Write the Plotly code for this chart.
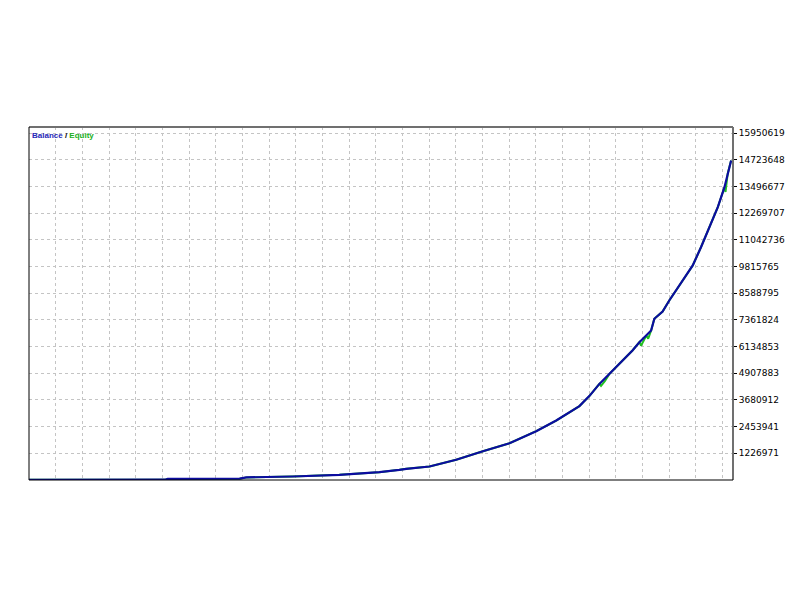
import plotly.graph_objects as go

# trade axis in grid units (no labels on the x axis), balance in account currency
balance_x = [0.0, 5.1, 5.2, 7.9, 8.15, 9.88, 11.64, 13.14, 13.89, 14.15, 15.02, 16.02,
             17.02, 18.02, 19.02, 19.77, 20.64, 21.02, 21.39, 21.76, 22.14, 22.63,
             22.89, 23.15, 23.33, 23.45, 23.76, 24.01, 24.39, 24.89, 25.2, 25.51,
             25.83, 26.08, 26.2, 26.33]
balance_y = [10000, 14000, 50000, 60000, 120000, 161000, 239000, 359000, 469000, 515000,
             621000, 929000, 1325000, 1693000, 2245000, 2737000, 3400000, 3870000,
             4420000, 4870000, 5346000, 5958000, 6340000, 6648000, 6878000, 7416000,
             7752000, 8258000, 8948000, 9869000, 10710000, 11630000, 12550000,
             13470000, 14087000, 14699000]

# equity follows balance with a few floating drawdowns
equity_x = [0.0, 5.1, 5.2, 7.9, 8.15, 9.88, 11.64, 13.14, 13.89, 14.15, 15.02, 16.02,
            17.02, 18.02, 19.02, 19.77, 20.64, 21.02, 21.39, 21.45, 21.6, 21.76, 22.14,
            22.63, 22.89, 22.95, 23.15, 23.22, 23.33, 23.45, 23.76, 24.01, 24.39,
            24.89, 25.2, 25.51, 25.83, 26.08, 26.12, 26.2, 26.33]
equity_y = [10000, 14000, 50000, 60000, 120000, 161000, 239000, 359000, 469000, 515000,
            621000, 929000, 1325000, 1693000, 2245000, 2737000, 3400000, 3870000,
            4420000, 4330000, 4560000, 4870000, 5346000, 5958000, 6340000, 6180000,
            6648000, 6500000, 6878000, 7416000, 7752000, 8258000, 8948000, 9869000,
            10710000, 11630000, 12550000, 13470000, 13250000, 14087000, 14699000]

tick_vals = [1226971, 2453941, 3680912, 4907883, 6134853, 7361824, 8588795,
             9815765, 11042736, 12269707, 13496677, 14723648, 15950619]
tick_text = [str(v) for v in tick_vals]

fig = go.Figure()
fig.add_trace(go.Scatter(x=equity_x, y=equity_y, mode='lines', name='Equity',
                         line=dict(color='#20c020', width=2)))
fig.add_trace(go.Scatter(x=balance_x, y=balance_y, mode='lines', name='Balance',
                         line=dict(color='#0c0ca0', width=2.2)))

grid = dict(showgrid=True, gridcolor='#c4c4c4', griddash='3px,3px', gridwidth=1, zeroline=False)

fig.update_layout(
    width=800, height=600,
    paper_bgcolor='white', plot_bgcolor='white',
    margin=dict(l=21, r=75, t=119, b=128),
    showlegend=False,
    font=dict(family='DejaVu Sans', size=9, color='black'),
    xaxis=dict(range=[0, 26.4], dtick=1, tick0=0, showticklabels=False, ticks='', **grid),
    yaxis=dict(range=[0, 16240000], side='right', tickvals=tick_vals, ticktext=tick_text,
               ticks='outside', ticklen=3, tickcolor='black', **grid),
    annotations=[dict(xref='paper', yref='paper', x=0.002, y=0.995, xanchor='left', yanchor='top',
                      showarrow=False, font=dict(family='Liberation Sans', size=8),
                      text="<b><span style='color:#2828b8'>Balance</span> / <span style='color:#20b020'>Equity</span></b>")],
    shapes=[
        # sunken frame: gray top/right, black left/bottom
        dict(type='line', xref='paper', yref='paper', x0=0, x1=1, y0=1, y1=1, line=dict(color='#707070', width=2)),
        dict(type='line', xref='paper', yref='paper', x0=1, x1=1, y0=0, y1=1, line=dict(color='#707070', width=2)),
        dict(type='line', xref='paper', yref='paper', x0=0, x1=0, y0=0, y1=1, line=dict(color='black', width=1)),
        dict(type='line', xref='paper', yref='paper', x0=0, x1=1, y0=0, y1=0, line=dict(color='black', width=1)),
    ],
)

fig.write_html("out.html")
